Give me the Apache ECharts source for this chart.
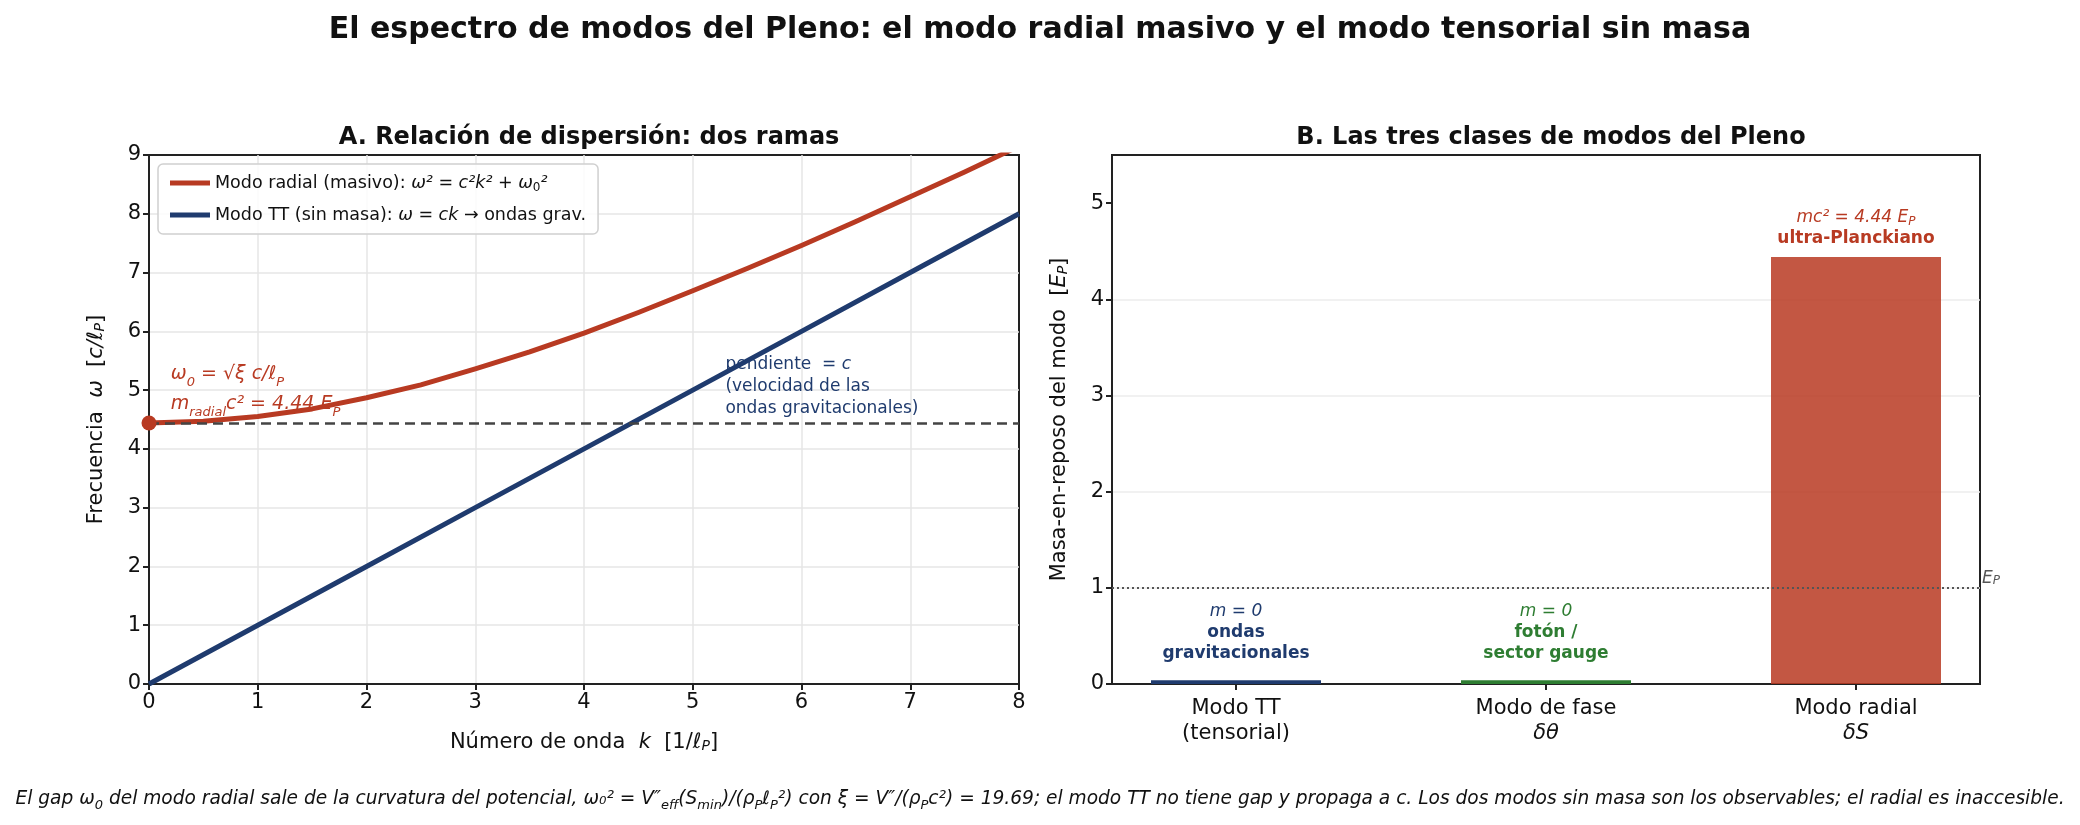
<!DOCTYPE html>
<html>
<head>
<meta charset="utf-8">
<script src="https://cdn.jsdelivr.net/npm/echarts@6/dist/echarts.min.js"></script>
<style>
  html, body { margin: 0; padding: 0; background: #fff; }
  #main { width: 2080px; height: 825px; }
</style>
</head>
<body>
<div id="main"></div>
<script>
// panel A: dispersion branches
var waveK = [0, 0.5, 1, 1.5, 2, 2.5, 3, 3.5, 4, 4.5, 5, 5.5, 6, 6.5, 7, 7.5, 8];
var radialOmega = [4.44, 4.47, 4.55, 4.68, 4.87, 5.09, 5.36, 5.65, 5.97, 6.32, 6.69, 7.07, 7.46, 7.87, 8.29, 8.71, 9.15];
var ttK = [0, 1, 2, 3, 4, 5, 6, 7, 8];
var ttOmega = [0, 1, 2, 3, 4, 5, 6, 7, 8];
var gapOmega = 4.44;

// panel B: the three mode classes
var modeNames = ["Modo TT\n(tensorial)", "Modo de fase\n{i|δθ}", "Modo radial\n{i|δS}"];
var modeMass = [0.04, 0.04, 4.44];
var massTicks = [0, 1, 2, 3, 4, 5];
var planckLevel = 1;

var RED = "#b83a22", BLUE = "#1f3b6e", GREEN = "#2e7d32";
var FONT = "DejaVu Sans";

var barColors = [BLUE, GREEN, "rgba(184,58,34,0.85)"];
var barLabels = [
  { text: "{i|m = 0}\n{b|ondas}\n{b|gravitacionales}", color: BLUE, dist: 16 },
  { text: "{i|m = 0}\n{b|fotón /}\n{b|sector gauge}", color: GREEN, dist: 16 },
  { text: "{i|mc² = 4.44 E}{s|P}\n{b|ultra-Planckiano}", color: RED, dist: 8 }
];

var barData = modeMass.map(function (m, i) {
  var lab = barLabels[i];
  return {
    value: [i, m],
    itemStyle: { color: barColors[i] },
    label: {
      show: true,
      position: "top",
      distance: lab.dist,
      align: "center",
      formatter: lab.text,
      rich: {
        i: { fontSize: 17, fontStyle: "italic", color: lab.color, fontFamily: FONT, lineHeight: 21 },
        b: { fontSize: 17, fontWeight: "bold", color: lab.color, fontFamily: FONT, lineHeight: 21 },
        s: { fontSize: 12, fontStyle: "italic", color: lab.color, fontFamily: FONT, verticalAlign: "bottom", lineHeight: 16 }
      }
    }
  };
});

var radialData = waveK.map(function (k, i) { return [k, radialOmega[i]]; });
var ttData = ttK.map(function (k, i) { return [k, ttOmega[i]]; });

var axisLineStyle = { onZero: false, lineStyle: { color: "#222", width: 2 } };
var tickStyle = { show: true, length: 6, lineStyle: { color: "#222", width: 2 } };
var splitStyle = { show: true, showMinLine: false, showMaxLine: false, lineStyle: { color: "#e6e6e6", width: 1.5 } };
var tickFont = { fontSize: 21, color: "#111", fontFamily: FONT, margin: 8 };

var nameRich = {
  i: { fontSize: 21, fontStyle: "italic", color: "#111", fontFamily: FONT },
  s: { fontSize: 14, fontStyle: "italic", color: "#111", fontFamily: FONT, verticalAlign: "bottom", lineHeight: 14 }
};

var option = {
  animation: false,
  backgroundColor: "#fff",
  textStyle: { fontFamily: FONT },
  title: [
    {
      text: "El espectro de modos del Pleno: el modo radial masivo y el modo tensorial sin masa",
      left: "center", top: 10,
      textStyle: { fontSize: 30, fontWeight: "bold", color: "#111", fontFamily: FONT }
    },
    {
      text: "A. Relación de dispersión: dos ramas",
      left: 584, top: 121, textAlign: "center",
      textStyle: { fontSize: 24, fontWeight: "bold", color: "#111", fontFamily: FONT }
    },
    {
      text: "B. Las tres clases de modos del Pleno",
      left: 1546, top: 121, textAlign: "center",
      textStyle: { fontSize: 24, fontWeight: "bold", color: "#111", fontFamily: FONT }
    },
    {
      text: "{i|El gap ω}{s|0}{i| del modo radial sale de la curvatura del potencial, ω₀² = V″}{s|eff}{i|(S}{s|min}{i|)/(ρ}{s|P}{i|ℓ}{s|P}{i|²) con ξ = V″/(ρ}{s|P}{i|c²) = 19.69; el modo TT no tiene gap y propaga a c. Los dos modos sin masa son los observables; el radial es inaccesible.}",
      left: "center", top: 781,
      textStyle: {
        fontWeight: "normal",
        rich: {
          i: { fontSize: 18.6, fontStyle: "italic", fontWeight: "normal", color: "#111", fontFamily: FONT, lineHeight: 26 },
          s: { fontSize: 13, fontStyle: "italic", fontWeight: "normal", color: "#111", fontFamily: FONT, verticalAlign: "bottom", lineHeight: 17 }
        }
      }
    }
  ],
  legend: {
    show: true,
    left: 158, top: 164,
    orient: "vertical",
    padding: [10, 12, 10, 12],
    itemGap: 12,
    backgroundColor: "rgba(255,255,255,0.85)",
    borderColor: "#d0d0d0",
    borderWidth: 1.5,
    borderRadius: 5,
    itemWidth: 40,
    itemHeight: 5,
    data: [
      { name: "radial", icon: "rect" },
      { name: "tt", icon: "rect" }
    ],
    formatter: function (name) {
      if (name === "radial") return "{n|Modo radial (masivo): }{i|ω² = c²k² + ω}{u|0}{i|²}";
      return "{n|Modo TT (sin masa): }{i|ω = ck}{n| → ondas grav.}";
    },
    textStyle: {
      rich: {
        n: { fontSize: 17.5, color: "#111", fontFamily: FONT, lineHeight: 22 },
        i: { fontSize: 17.5, fontStyle: "italic", color: "#111", fontFamily: FONT, lineHeight: 22 },
        u: { fontSize: 12, color: "#111", fontFamily: FONT, verticalAlign: "bottom", lineHeight: 14 }
      }
    }
  },
  grid: [
    { left: 149, top: 155, width: 870, height: 529, show: true, borderColor: "#222", borderWidth: 2, backgroundColor: "transparent" },
    { left: 1112, top: 155, width: 868, height: 529, show: true, borderColor: "#222", borderWidth: 2, backgroundColor: "transparent" }
  ],
  xAxis: [
    {
      gridIndex: 0, type: "value", min: 0, max: 8, interval: 1,
      name: "Número de onda  {i|k}  [1/{i|ℓ}{s|P}]",
      nameLocation: "middle", nameGap: 48,
      nameTextStyle: { rich: nameRich, fontSize: 21, color: "#111", fontFamily: FONT },
      axisLine: axisLineStyle, axisTick: tickStyle, axisLabel: tickFont, splitLine: splitStyle
    },
    {
      gridIndex: 1, type: "value", min: -0.4, max: 2.4,
      axisLine: axisLineStyle,
      axisTick: { show: true, length: 6, lineStyle: { color: "#222", width: 2 }, customValues: [0, 1, 2] },
      axisLabel: {
        fontSize: 21, color: "#111", fontFamily: FONT, margin: 12, lineHeight: 25,
        customValues: [0, 1, 2],
        formatter: function (v) { return modeNames[Math.round(v)]; },
        rich: { i: { fontSize: 21, fontStyle: "italic", color: "#111", fontFamily: FONT, lineHeight: 25 } }
      },
      splitLine: { show: false }
    }
  ],
  yAxis: [
    {
      gridIndex: 0, type: "value", min: 0, max: 9, interval: 1,
      name: "Frecuencia  {i|ω}  [{i|c/ℓ}{s|P}]",
      nameLocation: "middle", nameGap: 42,
      nameTextStyle: { rich: nameRich, fontSize: 21, color: "#111", fontFamily: FONT },
      axisLine: axisLineStyle, axisTick: tickStyle, axisLabel: tickFont, splitLine: splitStyle
    },
    {
      gridIndex: 1, type: "value", min: 0, max: 5.5,
      name: "Masa-en-reposo del modo  [{i|E}{s|P}]",
      nameLocation: "middle", nameGap: 42,
      nameTextStyle: { rich: nameRich, fontSize: 21, color: "#111", fontFamily: FONT },
      axisLine: axisLineStyle,
      axisTick: { show: true, length: 6, lineStyle: { color: "#222", width: 2 }, customValues: massTicks },
      axisLabel: { fontSize: 21, color: "#111", fontFamily: FONT, margin: 8, customValues: massTicks },
      splitLine: { show: true, showMinLine: false, showMaxLine: false, lineStyle: { color: "#ececec", width: 1.5 } }
    }
  ],
  series: [
    {
      name: "radial", type: "line", xAxisIndex: 0, yAxisIndex: 0,
      data: radialData, smooth: false, showSymbol: false, clip: true,
      lineStyle: { color: RED, width: 5, join: "round" }, itemStyle: { color: RED },
      z: 4,
      markLine: {
        silent: true, symbol: "none",
        lineStyle: { color: "#444", width: 2.5, type: [10, 6] },
        label: { show: false },
        data: [{ yAxis: gapOmega }]
      }
    },
    {
      name: "tt", type: "line", xAxisIndex: 0, yAxisIndex: 0,
      data: ttData, showSymbol: false,
      lineStyle: { color: BLUE, width: 5 }, itemStyle: { color: BLUE },
      z: 3
    },
    {
      name: "gapdot", type: "scatter", xAxisIndex: 0, yAxisIndex: 0,
      data: [[0, gapOmega]], symbolSize: 15, clip: false,
      itemStyle: { color: RED, opacity: 1 }, z: 6
    },
    {
      name: "annotA", type: "scatter", xAxisIndex: 0, yAxisIndex: 0,
      symbolSize: 0, silent: true, z: 2,
      itemStyle: { opacity: 1 },
      data: [
        {
          value: [0.2, 5.01],
          label: {
            show: true, position: "right", distance: 0, align: "left",
            formatter: "{i|ω}{s|0}{i| = √ξ c/ℓ}{s|P}\n{i|m}{s|radial}{i|c² = 4.44 E}{s|P}",
            rich: {
              i: { fontSize: 19, fontStyle: "italic", color: RED, fontFamily: FONT, lineHeight: 30 },
              s: { fontSize: 13, fontStyle: "italic", color: RED, fontFamily: FONT, verticalAlign: "bottom", lineHeight: 20 }
            }
          }
        },
        {
          value: [5.3, 5.06],
          label: {
            show: true, position: "right", distance: 0, align: "left",
            formatter: "pendiente  = {i|c}\n(velocidad de las\nondas gravitacionales)",
            color: BLUE, fontSize: 17, lineHeight: 22, fontFamily: FONT,
            rich: { i: { fontSize: 17, fontStyle: "italic", color: BLUE, fontFamily: FONT, lineHeight: 22 } }
          }
        }
      ]
    },
    {
      name: "modes", type: "bar", xAxisIndex: 1, yAxisIndex: 1,
      data: barData, barWidth: 170,
      markLine: {
        silent: true, symbol: "none",
        lineStyle: { color: "#555", width: 2, type: [2, 3] },
        label: {
          show: true, position: "end", distance: 2, formatter: "{i|E}{s|P}",
          padding: [0, 0, 18, 0],
          rich: {
            i: { fontSize: 17, fontStyle: "italic", color: "#555", fontFamily: FONT },
            s: { fontSize: 12, fontStyle: "italic", color: "#555", fontFamily: FONT, verticalAlign: "bottom", lineHeight: 14 }
          }
        },
        data: [{ yAxis: planckLevel }]
      }
    }
  ]
};

var chart = echarts.init(document.getElementById("main"));
chart.setOption(option);
</script>
</body>
</html>
